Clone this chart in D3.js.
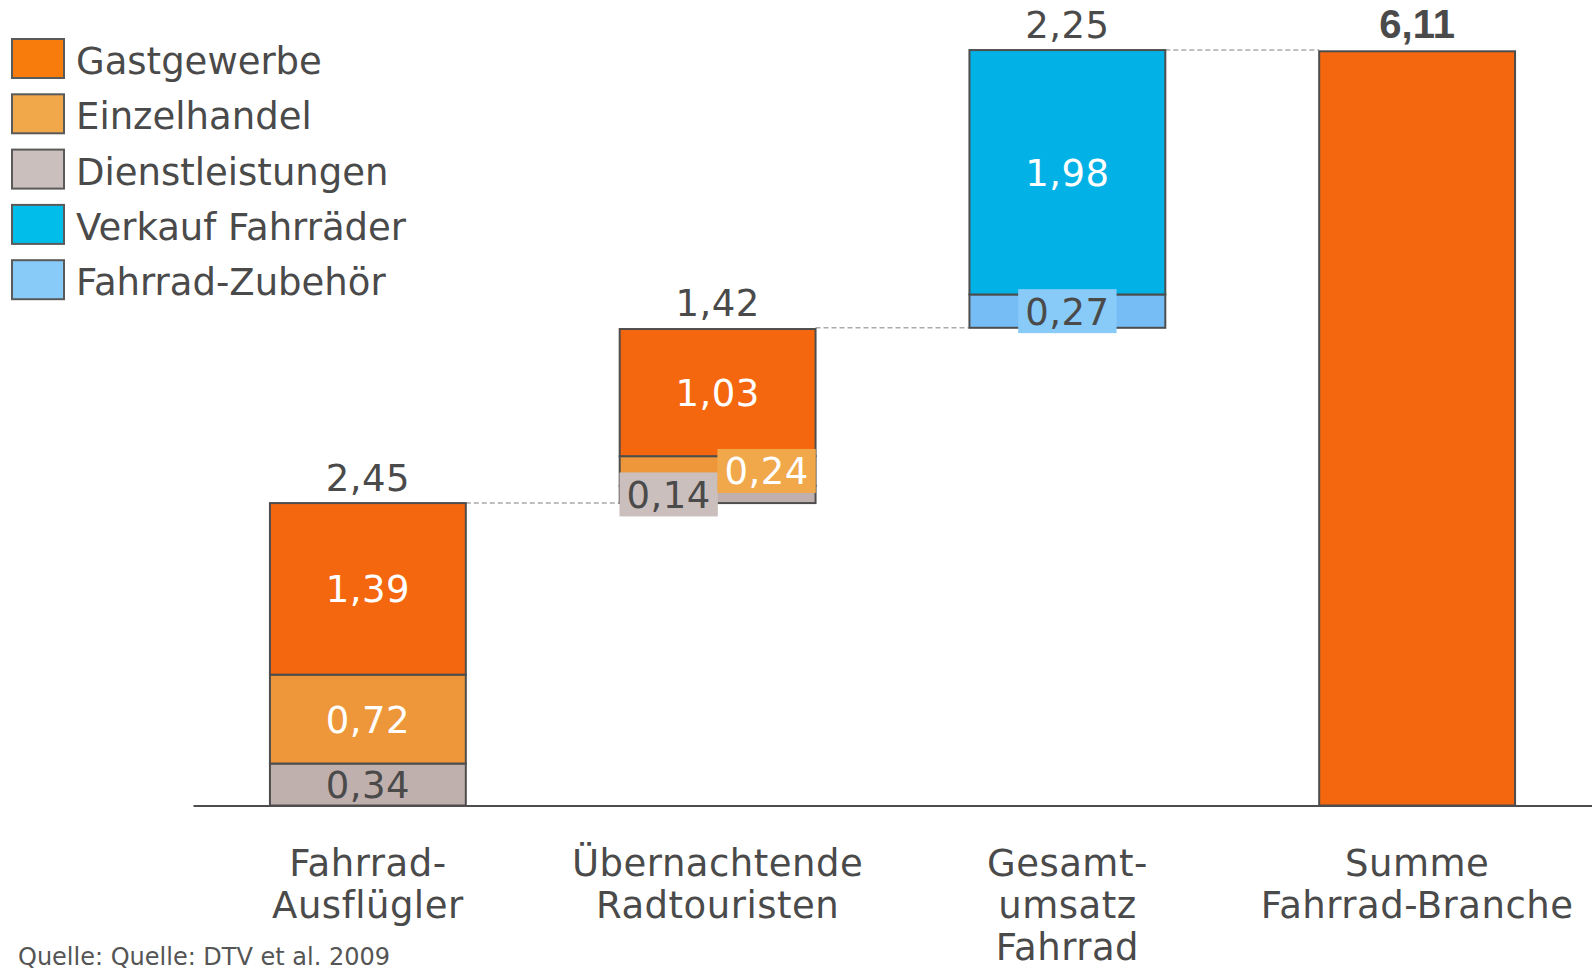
<!DOCTYPE html>
<html>
<head>
<meta charset="utf-8">
<script src="https://cdn.jsdelivr.net/npm/d3@7"></script>
<style>
html,body{margin:0;padding:0;background:#fff;}
svg{display:block;}
</style>
</head>
<body>
<svg id="chart" width="1592" height="972"></svg>
<script>
// ---- data ----
const categories = ["Fahrrad-\nAusflügler", "Übernachtende\nRadtouristen", "Gesamt-\numsatz\nFahrrad", "Summe\nFahrrad-Branche"];
const seriesNames = ["Gastgewerbe", "Einzelhandel", "Dienstleistungen", "Verkauf Fahrräder", "Fahrrad-Zubehör"];
const gastgewerbe = [1.39, 1.03, 0, 0];
const einzelhandel = [0.72, 0.24, 0, 0];
const dienstleistungen = [0.34, 0.14, 0, 0];
const verkaufFahrraeder = [0, 0, 1.98, 0];
const fahrradZubehoer = [0, 0, 0.27, 0];
const totals = [2.45, 1.42, 2.25, 6.11];
const isTotal = [false, false, false, true];
const stackOrder = ["Dienstleistungen", "Einzelhandel", "Gastgewerbe", "Fahrrad-Zubehör", "Verkauf Fahrräder"];

// ---- styles ----
const barColor = {
  "Gastgewerbe": "#f5670f",
  "Einzelhandel": "#ee973a",
  "Dienstleistungen": "#c0b0ad",
  "Verkauf Fahrräder": "#02b1e5",
  "Fahrrad-Zubehör": "#77bdf5"
};
const lightColor = {
  "Gastgewerbe": "#f77c0b",
  "Einzelhandel": "#f0a84a",
  "Dienstleistungen": "#cbbfbd",
  "Verkauf Fahrräder": "#00bdea",
  "Fahrrad-Zubehör": "#88caf8"
};
const darkText = new Set(["Dienstleistungen", "Fahrrad-Zubehör"]);
const textColor = "#4a4a4a";
const strokeColor = "#4d4d4d";
const FONT = "'DejaVu Sans', Verdana, sans-serif";
const FS = 37;
const LS = 0.5;

const seriesValues = {
  "Gastgewerbe": gastgewerbe,
  "Einzelhandel": einzelhandel,
  "Dienstleistungen": dienstleistungen,
  "Verkauf Fahrräder": verkaufFahrraeder,
  "Fahrrad-Zubehör": fahrradZubehoer
};

// table
const table = categories.map((c, i) => {
  const row = { cat: c, i };
  seriesNames.forEach(s => row[s] = seriesValues[s][i]);
  return row;
});
// bases for waterfall
const bases = [];
let cum = 0;
totals.forEach((t, i) => {
  if (isTotal[i]) { bases.push(0); }
  else { bases.push(cum); cum += t; }
});

const svg = d3.select("#chart");

const x = d3.scaleBand().domain(categories).range([193, 1592]).paddingInner(0.44).paddingOuter(0.22);
const y = d3.scaleLinear().domain([0, 6.11]).range([805.5, 51.3]);

const stack = d3.stack().keys(stackOrder);
const stacked = stack(table);

// connectors
const conn = svg.append("g");
categories.forEach((c, i) => {
  if (i === categories.length - 1) return;
  const top = isTotal[i] ? totals[i] : bases[i] + totals[i];
  conn.append("line")
    .attr("x1", x(c) + x.bandwidth())
    .attr("x2", x(categories[i + 1]))
    .attr("y1", y(top)).attr("y2", y(top))
    .attr("stroke", "#aaaaaa").attr("stroke-width", 1.5)
    .attr("stroke-dasharray", "5,3");
});

// bars
const barsG = svg.append("g");
stacked.forEach(layer => {
  const key = layer.key;
  layer.forEach((d, i) => {
    if (isTotal[i]) return;
    const v = d[1] - d[0];
    if (v <= 0) return;
    barsG.append("rect")
      .attr("x", x(categories[i]))
      .attr("width", x.bandwidth())
      .attr("y", y(bases[i] + d[1]))
      .attr("height", y(bases[i] + d[0]) - y(bases[i] + d[1]))
      .attr("fill", barColor[key])
      .attr("stroke", strokeColor).attr("stroke-width", 2);
  });
});
// total bar
categories.forEach((c, i) => {
  if (!isTotal[i]) return;
  barsG.append("rect")
    .attr("x", x(c)).attr("width", x.bandwidth())
    .attr("y", y(totals[i])).attr("height", y(0) - y(totals[i]))
    .attr("fill", barColor["Gastgewerbe"])
    .attr("stroke", strokeColor).attr("stroke-width", 2);
});

// axis
const axis = d3.axisBottom(x).tickSize(0).tickFormat("");
const axG = svg.append("g").attr("transform", `translate(0,${y(0)})`).call(axis);
axG.select(".domain").attr("stroke", strokeColor).attr("stroke-width", 2);

// category labels
categories.forEach((c, i) => {
  const lines = c.split("\n");
  const t = svg.append("text")
    .attr("x", x(c) + x.bandwidth() / 2)
    .attr("y", 876)
    .attr("text-anchor", "middle")
    .attr("font-family", FONT).attr("font-size", FS)
    .attr("letter-spacing", LS)
    .attr("fill", textColor);
  lines.forEach((l, k) => {
    t.append("tspan").attr("x", x(c) + x.bandwidth() / 2).attr("y", 876 + k * 42).text(l);
  });
});

// segment labels
const fmt = v => d3.format(".2f")(v).replace(".", ",");
const labG = svg.append("g");
categories.forEach((c, i) => {
  if (isTotal[i]) return;
  const segs = [];
  stacked.forEach(layer => {
    const d = layer[i];
    const v = d[1] - d[0];
    if (v <= 0) return;
    const y0 = y(bases[i] + d[0]), y1 = y(bases[i] + d[1]);
    segs.push({ key: layer.key, v, cy: (y0 + y1) / 2, h: y0 - y1 });
  });
  const small = segs.filter(s => s.h < 40);
  const cx = x(c) + x.bandwidth() / 2;
  segs.forEach(s => {
    let px = cx;
    const boxed = s.h < 40;
    if (boxed && small.length > 1) {
      const idx = small.indexOf(s);
      px = idx === 0 ? cx - x.bandwidth() / 4 : cx + x.bandwidth() / 4;
    }
    const g = labG.append("g");
    const txt = g.append("text")
      .attr("x", px).attr("y", s.cy + 13.5)
      .attr("text-anchor", "middle")
      .attr("font-family", FONT).attr("font-size", FS)
      .attr("letter-spacing", LS)
      .attr("fill", darkText.has(s.key) ? textColor : "#ffffff")
      .text(fmt(s.v));
    if (boxed) {
      const w = txt.node().getComputedTextLength() + 14;
      g.insert("rect", "text")
        .attr("x", px - w / 2).attr("y", s.cy - 22)
        .attr("width", w).attr("height", 44)
        .attr("fill", lightColor[s.key]);
    }
  });
});

// total labels
categories.forEach((c, i) => {
  const top = isTotal[i] ? totals[i] : bases[i] + totals[i];
  svg.append("text")
    .attr("x", x(c) + x.bandwidth() / 2)
    .attr("y", y(top) - (isTotal[i] ? 13 : 12))
    .attr("text-anchor", "middle")
    .attr("font-family", isTotal[i] ? "'Liberation Sans', Arial, sans-serif" : FONT)
    .attr("font-weight", isTotal[i] ? "bold" : "normal")
    .attr("font-size", isTotal[i] ? 40 : FS)
    .attr("letter-spacing", isTotal[i] ? 0 : LS)
    .attr("fill", textColor)
    .text(fmt(totals[i]));
});

// legend
const leg = svg.append("g");
seriesNames.forEach((s, k) => {
  const cy = 58.5 + k * 55.3;
  leg.append("rect")
    .attr("x", 12).attr("y", cy - 19.5)
    .attr("width", 52).attr("height", 39)
    .attr("fill", lightColor[s])
    .attr("stroke", "#5a5a5a").attr("stroke-width", 2);
  leg.append("text")
    .attr("x", 76).attr("y", cy + 15.5)
    .attr("font-family", FONT).attr("font-size", FS)
    .attr("fill", textColor)
    .text(s);
});

// source
svg.append("text")
  .attr("x", 18).attr("y", 965)
  .attr("font-family", FONT).attr("font-size", 24)
  .attr("fill", "#555555")
  .text("Quelle: Quelle: DTV et al. 2009");
</script>
</body>
</html>
